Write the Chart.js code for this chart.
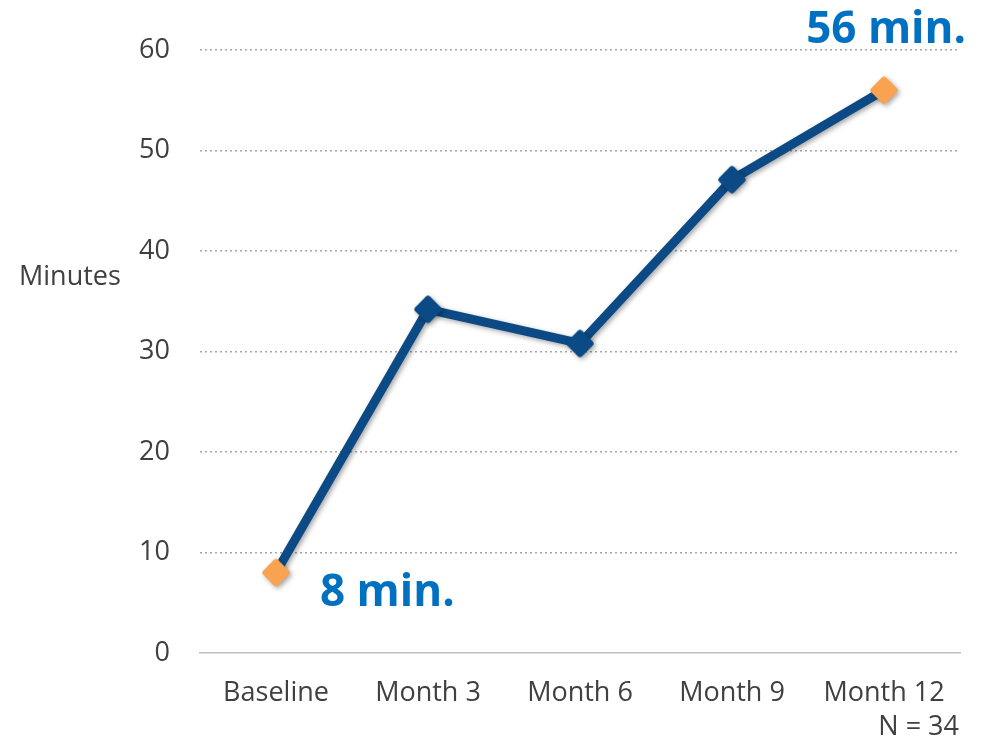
<!DOCTYPE html>
<html>
<head>
<meta charset="utf-8">
<script src="https://cdn.jsdelivr.net/npm/chart.js@4/dist/chart.umd.min.js"></script>
<style>
  html, body { margin: 0; padding: 0; background: #ffffff; }
  #wrap { width: 983px; height: 741px; position: relative; }
</style>
</head>
<body>
<div id="wrap"><canvas id="chart" width="983" height="741"></canvas></div>
<script>
// Follow-up time points and average minutes
const categories = ['Baseline', 'Month 3', 'Month 6', 'Month 9', 'Month 12'];
const minutes = [8, 34.2, 30.8, 47.1, 56];
const yTicks = [0, 10, 20, 30, 40, 50, 60];
const axisTitle = 'Minutes';
const sampleNote = 'N = 34';

const LINE_BLUE = '#0b4a84';
const HIGHLIGHT = '#f9a24f';
const LABEL_BLUE = '#0070c0';
const TEXT_GREY = '#404040';
const TICK_SIZE = 27;

// Rounded diamond marker drawn once onto a small canvas
function diamondMarker(color) {
  const size = 36;
  const c = document.createElement('canvas');
  c.width = size; c.height = size;
  const g = c.getContext('2d');
  const side = 21;
  g.translate(size / 2, size / 2);
  g.rotate(Math.PI / 4);
  g.beginPath();
  g.roundRect(-side / 2, -side / 2, side, side, 3);
  g.fillStyle = color;
  g.fill();
  return c;
}
const blueMarker = diamondMarker(LINE_BLUE);
const orangeMarker = diamondMarker(HIGHLIGHT);
const lastIndex = minutes.length - 1;
const markers = minutes.map((v, i) => (i === 0 || i === lastIndex) ? orangeMarker : blueMarker);

// Soft drop shadow under the line and markers
const shadowPlugin = {
  id: 'lineShadow',
  beforeDatasetsDraw(chart) {
    const ctx = chart.ctx;
    ctx.save();
    ctx.shadowColor = 'rgba(0,0,0,0.35)';
    ctx.shadowBlur = 5;
    ctx.shadowOffsetX = 2;
    ctx.shadowOffsetY = 2;
  },
  afterDatasetsDraw(chart) {
    chart.ctx.restore();
  }
};

// Axis title, sample size note and start/end callouts
const textPlugin = {
  id: 'extraText',
  afterDraw(chart) {
    const ctx = chart.ctx;
    const x = chart.scales.x, y = chart.scales.y;
    ctx.save();
    ctx.fillStyle = TEXT_GREY;
    ctx.font = TICK_SIZE + 'px "Open Sans", sans-serif';
    ctx.textBaseline = 'middle';
    ctx.textAlign = 'left';
    ctx.fillText(axisTitle, 19, 277);
    ctx.textAlign = 'right';
    ctx.fillText(sampleNote, 959, 727);

    ctx.fillStyle = LABEL_BLUE;
    ctx.font = 'bold 44px "Open Sans", sans-serif';
    ctx.textBaseline = 'alphabetic';
    ctx.textAlign = 'left';
    const x0 = x.getPixelForValue(0);
    ctx.fillText(minutes[0] + ' min.', x0 + 44, y.getPixelForValue(minutes[0]) + 33);
    ctx.textAlign = 'right';
    ctx.fillText(minutes[lastIndex] + ' min.', 966, 43);
    ctx.restore();
  }
};

new Chart(document.getElementById('chart'), {
  type: 'line',
  data: {
    labels: categories,
    datasets: [{
      data: minutes,
      borderColor: LINE_BLUE,
      borderWidth: 9,
      tension: 0,
      pointStyle: markers,
      pointRadius: 14,
      pointHoverRadius: 14,
      borderCapStyle: 'round',
      borderJoinStyle: 'round'
    }]
  },
  options: {
    responsive: false,
    animation: false,
    events: [],
    layout: { padding: { left: 0, right: 23, top: 50, bottom: 0 } },
    plugins: {
      legend: { display: false },
      tooltip: { enabled: false }
    },
    scales: {
      x: {
        offset: true,
        grid: { display: false, drawTicks: false },
        border: { display: true, color: '#bfbfbf', width: 1.5 },
        ticks: {
          color: TEXT_GREY,
          font: { family: '"Open Sans", sans-serif', size: TICK_SIZE },
          padding: 24,
          maxRotation: 0
        },
        afterFit(scale) { scale.height = 88; }
      },
      y: {
        min: yTicks[0],
        max: yTicks[yTicks.length - 1],
        afterBuildTicks(scale) { scale.ticks = yTicks.map(v => ({ value: v })); },
        grid: {
          drawTicks: false,
          lineWidth: 1.6,
          color: (c) => (c.tick && c.tick.value === 0) ? 'rgba(0,0,0,0)' : '#a6a6a6'
        },
        border: { display: false, dash: [2, 3] },
        ticks: {
          color: TEXT_GREY,
          font: { family: '"Open Sans", sans-serif', size: TICK_SIZE },
          padding: 30
        },
        afterFit(scale) { scale.width = 200; }
      }
    }
  },
  plugins: [shadowPlugin, textPlugin]
});
</script>
</body>
</html>
